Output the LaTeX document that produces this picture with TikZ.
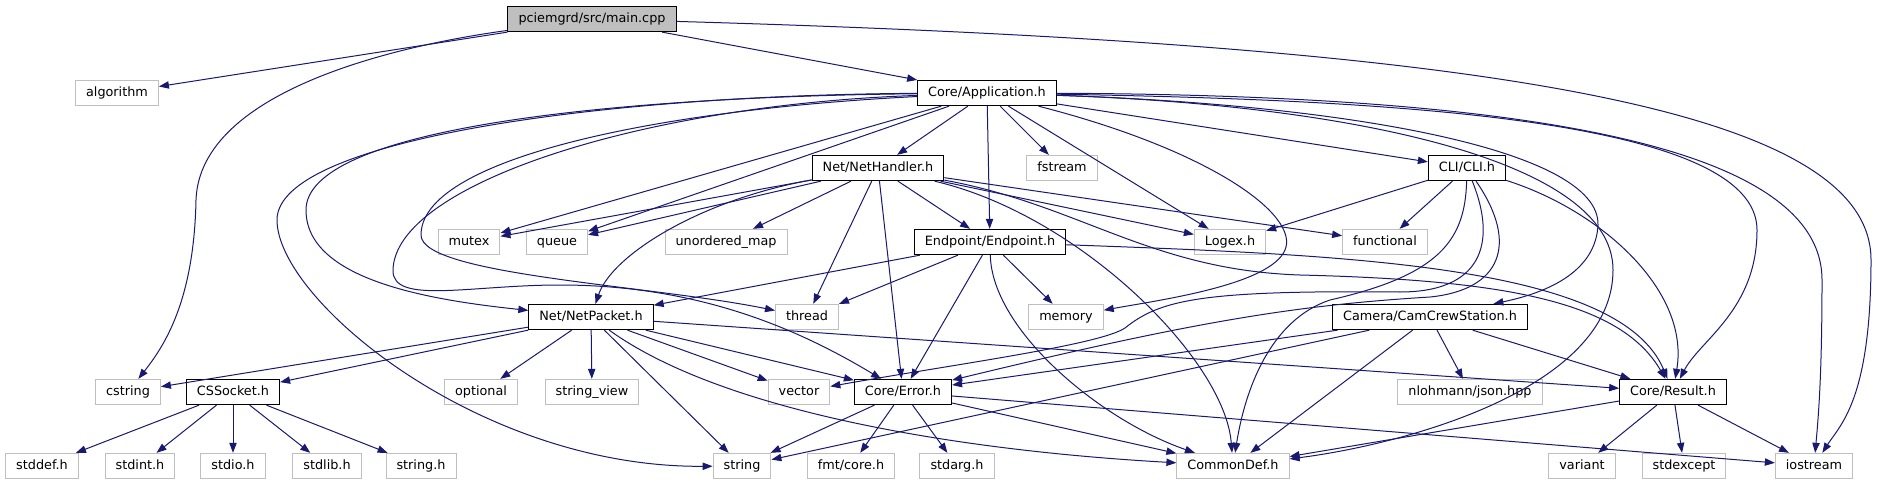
\documentclass[tikz,border=0pt]{standalone}
\usepackage{fontspec}
\setmainfont{DejaVu Sans}
\usetikzlibrary{arrows.meta}
\definecolor{dnavy}{HTML}{191970}
\definecolor{dgrey}{HTML}{BFBFBF}

\begin{document}
\begin{tikzpicture}[x=0.75pt,y=-0.75pt,
  font=\fontsize{9.6}{11}\selectfont,
  f/.style={draw=black,line width=0.75pt,fill=white,inner xsep=7.9pt,inner ysep=0pt,
            minimum height=19pt,text height=7.3pt,text depth=2.1pt},
  s/.style={f,draw=dgrey},
  r/.style={f,fill=dgrey},
  a/.style={-{Triangle[length=7.5pt,width=5.5pt]},draw=dnavy,line width=0.75pt}]

\fill[white] (0,0) rectangle (1877,485);
\useasboundingbox (0,0) rectangle (1877,485);

% files of the project in black, library headers in grey
\node[r] (main) at (592,19)  {pciemgrd/src/main.cpp};
\node[s] (algo) at (117,93)  {algorithm};
\node[f] (app)  at (987,93)  {Core/Application.h};
\node[f] (nh)   at (878,168) {Net/NetHandler.h};
\node[s] (fstr) at (1062,168) {fstream};
\node[f] (cli)  at (1467,168) {CLI/CLI.h};
\node[s] (mtx)  at (469,242) {mutex};
\node[s] (que)  at (557,242) {queue};
\node[s] (umap) at (726,242) {unordered\_map};
\node[f] (ep)   at (990,242) {Endpoint/Endpoint.h};
\node[s] (logx) at (1230,242) {Logex.h};
\node[s] (func) at (1385,242) {functional};
\node[f] (np)   at (591,317) {Net/NetPacket.h};
\node[s] (thr)  at (807,317) {thread};
\node[s] (mem)  at (1066,317) {memory};
\node[f] (cam)  at (1430,317) {Camera/CamCrewStation.h};
\node[s] (cstr) at (128,392) {cstring};
\node[f] (sock) at (233,392) {CSSocket.h};
\node[s] (opt)  at (481,392) {optional};
\node[s] (sv)   at (592,392) {string\_view};
\node[s] (vec)  at (799,392) {vector};
\node[f] (err)  at (903,392) {Core/Error.h};
\node[s] (json) at (1470,392) {nlohmann/json.hpp};
\node[f] (res)  at (1673,392) {Core/Result.h};
\node[s] (sdef) at (42,466)  {stddef.h};
\node[s] (sint) at (140,466) {stdint.h};
\node[s] (sio)  at (233,466) {stdio.h};
\node[s] (slib) at (327,466) {stdlib.h};
\node[s] (strh) at (421,466) {string.h};
\node[s] (str)  at (742,466) {string};
\node[s] (fmt)  at (851,466) {fmt/core.h};
\node[s] (sarg) at (957,466) {stdarg.h};
\node[s] (cdef) at (1233,466) {CommonDef.h};
\node[s] (var)  at (1582,466) {variant};
\node[s] (sexc) at (1684,466) {stdexcept};
\node[s] (ios)  at (1814,466) {iostream};

% main.cpp
\draw[a] (main) -- (algo);
\draw[a] (main) .. controls (400,45) and (200,90) .. (196,200) .. controls (194,300) and (165,345) .. (cstr);
\draw[a] (main) -- (app);
\draw[a] (main) .. controls (1500,45) and (1871,110) .. (1871,260) .. controls (1871,400) and (1840,425) .. (ios);

% Core/Application.h
\draw[a] (app) -- (nh);
\draw[a] (app) -- (fstr);
\draw[a] (app) -- (ep);
\draw[a] (app) -- (cli);
\draw[a] (app) -- (logx);
\draw[a] (app) -- (mtx);
\draw[a] (app) -- (que);
\draw[a] (app) .. controls (1210,150) and (1300,215) .. (1285,250) .. controls (1270,285) and (1160,300) .. (mem);
\draw[a] (app) .. controls (600,95) and (277,140) .. (277,220) .. controls (277,300) and (480,468) .. (str);
\draw[a] (app) .. controls (600,97) and (306,130) .. (306,210) .. controls (306,280) and (430,300) .. (np);
\draw[a] (app) .. controls (650,110) and (421,160) .. (421,235) .. controls (421,275) and (650,285) .. (thr);
\draw[a] (app) .. controls (640,105) and (395,185) .. (393,270) .. controls (392,305) and (470,285) .. (560,285)
  .. controls (700,285) and (800,330) .. (err);
\draw[a] (app) .. controls (1350,105) and (1600,150) .. (1598,225) .. controls (1596,265) and (1560,290) .. (cam);
\draw[a] (app) .. controls (1400,100) and (1757,120) .. (1757,230) .. controls (1757,310) and (1700,340) .. (res);
\draw[a] (app) .. controls (1350,105) and (1613,160) .. (1613,270) .. controls (1613,390) and (1400,445) .. (cdef);
\draw[a] (app) .. controls (1500,95) and (1822,140) .. (1822,280) .. controls (1822,380) and (1818,420) .. (ios);

% Net/NetHandler.h
\draw[a] (nh) -- (mtx);
\draw[a] (nh) -- (que);
\draw[a] (nh) -- (umap);
\draw[a] (nh) .. controls (700,200) and (612,255) .. (np);
\draw[a] (nh) -- (thr);
\draw[a] (nh) -- (err);
\draw[a] (nh) -- (ep);
\draw[a] (nh) -- (logx);
\draw[a] (nh) -- (func);
\draw[a] (nh) .. controls (1080,215) and (1225,360) .. (cdef);
\draw[a] (nh) .. controls (1080,205) and (1150,270) .. (1300,275) .. controls (1500,280) and (1620,300) .. (res);

% Endpoint/Endpoint.h
\draw[a] (ep) -- (np);
\draw[a] (ep) -- (thr);
\draw[a] (ep) -- (err);
\draw[a] (ep) -- (mem);
\draw[a] (ep) .. controls (992,330) and (1100,420) .. (cdef);
\draw[a] (ep) .. controls (1350,255) and (1620,265) .. (res);

% CLI/CLI.h
\draw[a] (cli) -- (logx);
\draw[a] (cli) -- (func);
\draw[a] (cli) .. controls (1498,245) and (1480,292) .. (1400,292) .. controls (1200,290) and (1160,300) .. (1125,328)
  .. controls (1100,345) and (950,365) .. (vec);
\draw[a] (cli) .. controls (1520,245) and (1500,290) .. (1430,297) .. controls (1300,305) and (1200,320) .. (err);
\draw[a] (cli) .. controls (1465,240) and (1440,275) .. (1330,300) .. controls (1270,320) and (1245,390) .. (cdef);
\draw[a] (cli) .. controls (1600,210) and (1690,290) .. (res);

% Camera/CamCrewStation.h
\draw[a] (cam) -- (err);
\draw[a] (cam) -- (str);
\draw[a] (cam) -- (json);
\draw[a] (cam) -- (cdef);
\draw[a] (cam) -- (res);

% Net/NetPacket.h
\draw[a] (np) -- (cstr);
\draw[a] (np) -- (sock);
\draw[a] (np) -- (opt);
\draw[a] (np) -- (sv);
\draw[a] (np) -- (vec);
\draw[a] (np) -- (err);
\draw[a] (np) -- (str);
\draw[a] (np) .. controls (720,410) and (950,450) .. (cdef);
\draw[a] (np) -- (res);

% CSSocket.h
\draw[a] (sock) -- (sdef);
\draw[a] (sock) -- (sint);
\draw[a] (sock) -- (sio);
\draw[a] (sock) -- (slib);
\draw[a] (sock) -- (strh);

% Core/Error.h
\draw[a] (err) -- (str);
\draw[a] (err) -- (fmt);
\draw[a] (err) -- (sarg);
\draw[a] (err) -- (cdef);
\draw[a] (err) -- (ios);

% Core/Result.h
\draw[a] (res) -- (cdef);
\draw[a] (res) -- (var);
\draw[a] (res) -- (sexc);
\draw[a] (res) -- (ios);
\end{tikzpicture}
\end{document}
